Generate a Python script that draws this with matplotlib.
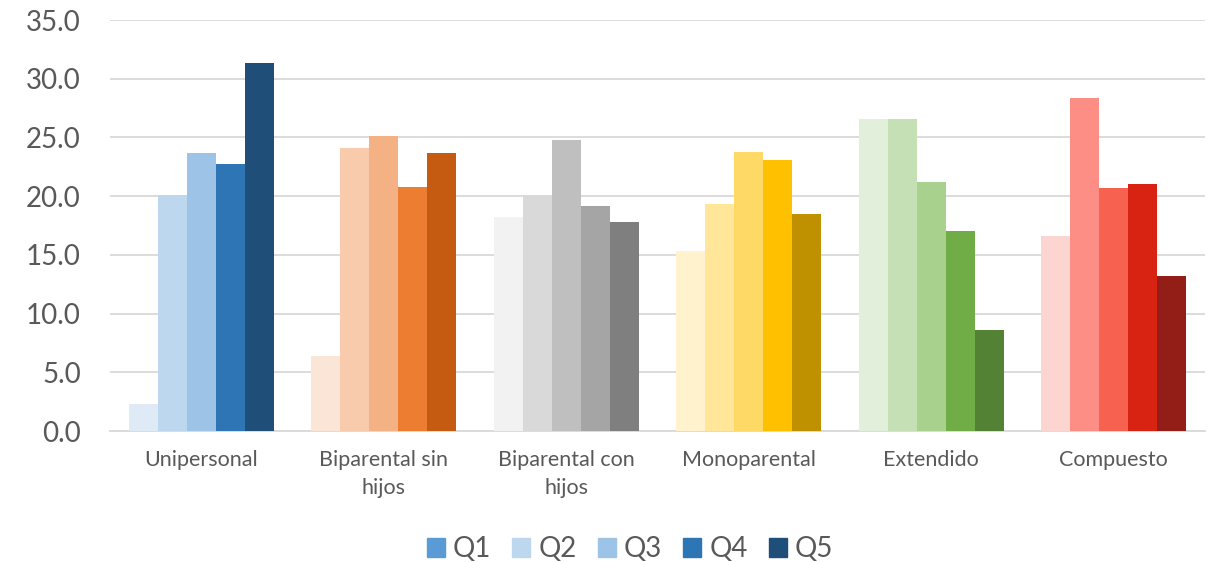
import numpy as np
import matplotlib.pyplot as plt
from matplotlib.patches import Patch

plt.rcParams['font.family'] = ['Lato', 'DejaVu Sans']

categorias = ["Unipersonal", "Biparental sin\nhijos", "Biparental con\nhijos",
              "Monoparental", "Extendido", "Compuesto"]
quintiles = ["Q1", "Q2", "Q3", "Q4", "Q5"]

q1 = [2.3, 6.4, 18.2, 15.3, 26.6, 16.6]
q2 = [20.1, 24.1, 20.1, 19.3, 26.6, 28.4]
q3 = [23.7, 25.1, 24.8, 23.8, 21.2, 20.7]
q4 = [22.7, 20.8, 19.2, 23.1, 17.0, 21.0]
q5 = [31.3, 23.7, 17.8, 18.5, 8.6, 13.2]
series = [q1, q2, q3, q4, q5]

# una paleta por grupo (Q1 -> Q5)
paletas = [
    ["#DEEBF7", "#BDD7EE", "#9DC3E6", "#2E75B6", "#1F4E79"],
    ["#FBE5D6", "#F8CBAD", "#F4B183", "#ED7D31", "#C55A11"],
    ["#F2F2F2", "#D9D9D9", "#BFBFBF", "#A5A5A5", "#7F7F7F"],
    ["#FFF2CC", "#FFE699", "#FFD966", "#FFC000", "#BF9000"],
    ["#E2EFDA", "#C5E0B4", "#A9D18E", "#70AD47", "#548235"],
    ["#FCD5D1", "#FC8E85", "#F7614F", "#D82212", "#931E18"],
]
colores_leyenda = ["#5B9BD5", "#BDD7EE", "#9DC3E6", "#2E75B6", "#1F4E79"]

fig = plt.figure(figsize=(12.2, 5.62), dpi=100)
ax = fig.add_axes([110/1220, 1-431/562, 1095/1220, 411/562])

x = np.arange(len(categorias))
w = 0.159
for i, vals in enumerate(series):
    cols = [paletas[g][i] for g in range(len(categorias))]
    ax.bar(x + (i-2)*w, vals, w, color=cols, zorder=3)

ax.set_xlim(-0.5, len(categorias)-0.5)
ax.set_ylim(0, 35)
ax.set_yticks(np.arange(0, 36, 5))
ax.set_yticklabels([f"{v:.1f}" for v in np.arange(0, 36, 5)])
ax.set_xticks(x)
ax.set_xticklabels(categorias, linespacing=1.45)
ax.yaxis.grid(True, color="#D9D9D9", lw=1.3, zorder=0)
for s in ["top", "right", "left"]:
    ax.spines[s].set_visible(False)
ax.spines["bottom"].set_color("#D9D9D9")
ax.spines["bottom"].set_linewidth(1.3)
ax.tick_params(axis="both", length=0, colors="#595959")
ax.tick_params(axis="y", labelsize=20, pad=21)
ax.tick_params(axis="x", labelsize=15.5, pad=14)

handles = [Patch(color=c) for c in colores_leyenda]
fig.legend(handles, quintiles, loc="center", bbox_to_anchor=(630/1220, 1-549/562),
           ncol=5, frameon=False, fontsize=20, handlelength=0.65, handleheight=0.65,
           handletextpad=0.3, columnspacing=0.75, labelcolor="#595959")

fig.savefig("out.png", dpi=100)
